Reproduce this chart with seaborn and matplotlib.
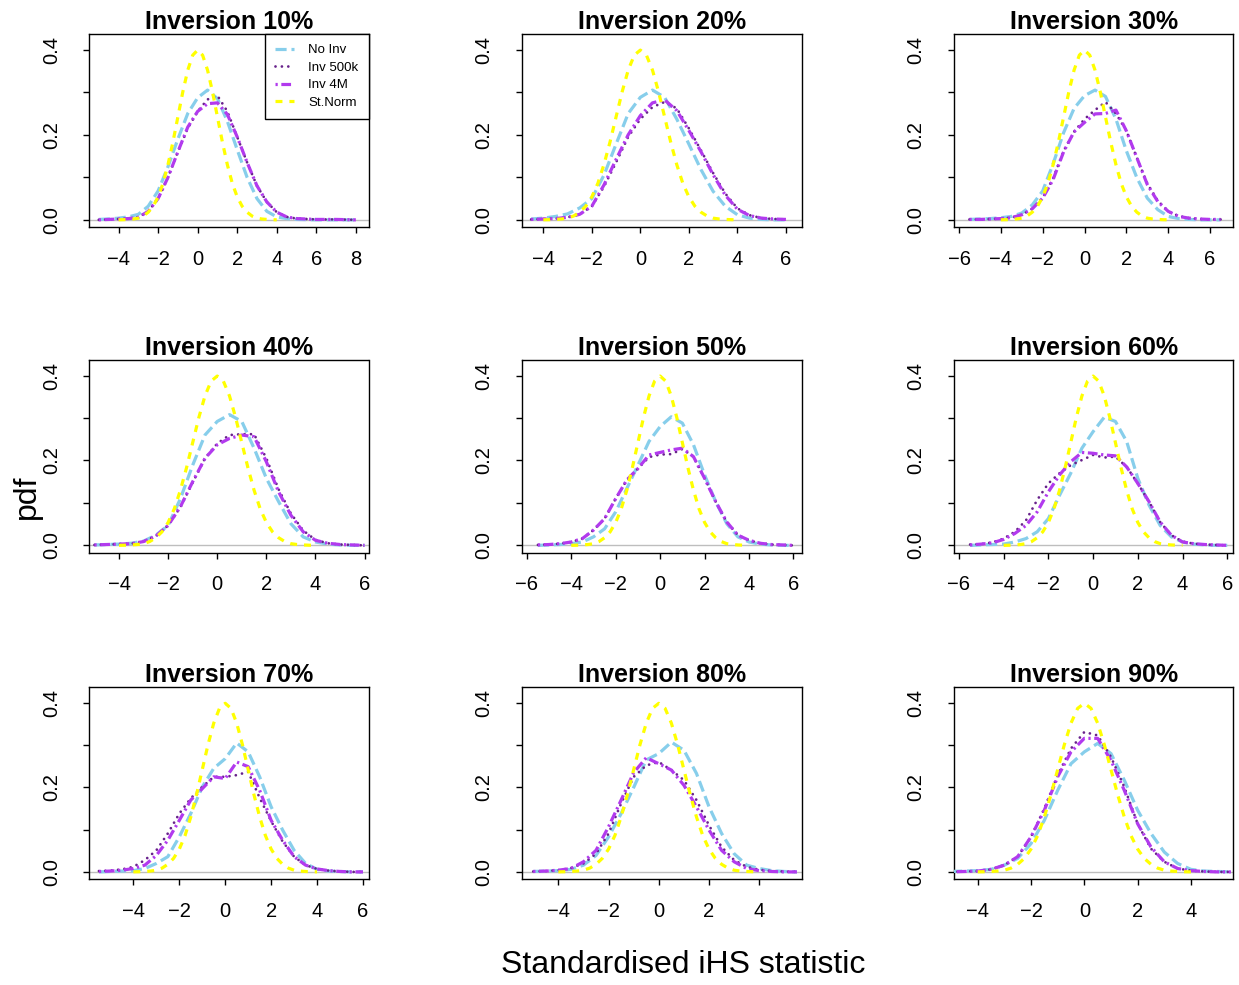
import matplotlib
matplotlib.use("Agg")
import matplotlib.pyplot as plt
from matplotlib.lines import Line2D
import seaborn as sns

# ---------------- data ----------------
titles = ["Inversion 10%", "Inversion 20%", "Inversion 30%",
          "Inversion 40%", "Inversion 50%", "Inversion 60%",
          "Inversion 70%", "Inversion 80%", "Inversion 90%"]
series_names = ["No Inv", "Inv 500k", "Inv 4M", "St.Norm"]

# standard normal reference curve
stnorm_x = [-4.0, -3.75, -3.5, -3.25, -3.0, -2.75, -2.5, -2.25, -2.0, -1.75, -1.5,
            -1.25, -1.0, -0.75, -0.5, -0.25, 0.0, 0.25, 0.5, 0.75, 1.0, 1.25, 1.5,
            1.75, 2.0, 2.25, 2.5, 2.75, 3.0, 3.25, 3.5, 3.75, 4.0]
stnorm_y = [0.0001, 0.0004, 0.001, 0.002, 0.004, 0.009, 0.018, 0.032, 0.054, 0.086, 0.130,
            0.183, 0.242, 0.301, 0.352, 0.387, 0.399, 0.387, 0.352, 0.301, 0.242, 0.183, 0.130,
            0.086, 0.054, 0.032, 0.018, 0.009, 0.004, 0.002, 0.001, 0.0004, 0.0001]

# 10%
x_10 = [-5, -4.5, -4, -3.5, -3, -2.5, -2, -1.5, -1, -0.5, 0, 0.5, 1, 1.5, 2, 2.5, 3,
        3.5, 4, 4.5, 5, 5.5, 6, 6.5, 7, 7.5, 8]
noinv_10 = [0.001, 0.002, 0.004, 0.007, 0.013, 0.032, 0.068, 0.125, 0.190, 0.250, 0.287,
            0.305, 0.285, 0.232, 0.165, 0.100, 0.050, 0.020, 0.007, 0.003, 0.001, 0.0005,
            0, 0, 0, 0, 0]
inv500k_10 = [0, 0.001, 0.002, 0.003, 0.006, 0.020, 0.050, 0.100, 0.160, 0.215, 0.255,
              0.283, 0.292, 0.255, 0.195, 0.135, 0.080, 0.042, 0.018, 0.007, 0.003, 0.002,
              0.001, 0.001, 0.001, 0.0005, 0]
inv4m_10 = [0, 0.001, 0.002, 0.003, 0.006, 0.020, 0.050, 0.100, 0.160, 0.218, 0.255,
            0.273, 0.275, 0.248, 0.195, 0.135, 0.080, 0.042, 0.018, 0.007, 0.003, 0.002,
            0.001, 0.001, 0.001, 0.0005, 0]

# 20%
x_20 = [-4.5, -4, -3.5, -3, -2.5, -2, -1.5, -1, -0.5, 0, 0.5, 1, 1.5, 2, 2.5, 3, 3.5,
        4, 4.5, 5, 5.5, 6]
noinv_20 = [0.002, 0.004, 0.008, 0.014, 0.028, 0.050, 0.105, 0.178, 0.250, 0.288, 0.305,
            0.288, 0.237, 0.178, 0.118, 0.067, 0.032, 0.012, 0.004, 0.001, 0, 0]
inv500k_20 = [0.001, 0.002, 0.003, 0.006, 0.013, 0.032, 0.078, 0.135, 0.195, 0.237, 0.265,
              0.277, 0.262, 0.215, 0.163, 0.110, 0.062, 0.027, 0.011, 0.004, 0.002, 0.001]
inv4m_20 = [0.001, 0.002, 0.003, 0.006, 0.013, 0.032, 0.082, 0.142, 0.200, 0.245, 0.275,
            0.282, 0.257, 0.210, 0.160, 0.106, 0.058, 0.025, 0.010, 0.004, 0.002, 0.001]

# 30%
x_30 = [-5.5, -5, -4.5, -4, -3.5, -3, -2.5, -2, -1.5, -1, -0.5, 0, 0.5, 1, 1.5, 2, 2.5,
        3, 3.5, 4, 4.5, 5, 5.5, 6, 6.5]
noinv_30 = [0.001, 0.002, 0.003, 0.005, 0.008, 0.016, 0.035, 0.068, 0.132, 0.205, 0.262,
            0.292, 0.305, 0.290, 0.237, 0.162, 0.099, 0.051, 0.024, 0.008, 0.003, 0.001,
            0, 0, 0]
inv500k_30 = [0.001, 0.001, 0.002, 0.003, 0.005, 0.012, 0.026, 0.052, 0.098, 0.162, 0.207,
              0.237, 0.258, 0.277, 0.250, 0.209, 0.146, 0.085, 0.045, 0.020, 0.009, 0.004,
              0.002, 0.001, 0.001]
inv4m_30 = [0.001, 0.001, 0.002, 0.003, 0.005, 0.012, 0.026, 0.051, 0.095, 0.160, 0.207,
            0.229, 0.249, 0.250, 0.258, 0.209, 0.146, 0.083, 0.043, 0.020, 0.008, 0.004,
            0.002, 0.001, 0.001]

# 40%
x_40 = [-5, -4.5, -4, -3.5, -3, -2.5, -2, -1.5, -1, -0.5, 0, 0.5, 1, 1.5, 2, 2.5, 3,
        3.5, 4, 4.5, 5, 5.5, 6]
noinv_40 = [0.001, 0.002, 0.003, 0.005, 0.010, 0.024, 0.047, 0.110, 0.189, 0.260, 0.292,
            0.308, 0.292, 0.229, 0.158, 0.103, 0.051, 0.020, 0.008, 0.003, 0.001, 0, 0]
inv500k_40 = [0.001, 0.002, 0.003, 0.004, 0.009, 0.022, 0.047, 0.090, 0.148, 0.205, 0.240,
              0.260, 0.262, 0.262, 0.205, 0.132, 0.075, 0.035, 0.013, 0.005, 0.002, 0.001, 0]
inv4m_40 = [0.001, 0.002, 0.003, 0.004, 0.009, 0.022, 0.047, 0.091, 0.150, 0.205, 0.237,
            0.252, 0.260, 0.256, 0.197, 0.126, 0.071, 0.032, 0.012, 0.005, 0.002, 0.001, 0]

# 50%
x_50 = [-5.5, -5, -4.5, -4, -3.5, -3, -2.5, -2, -1.5, -1, -0.5, 0, 0.5, 1, 1.5, 2, 2.5,
        3, 3.5, 4, 4.5, 5, 5.5, 6]
noinv_50 = [0, 0.001, 0.002, 0.004, 0.008, 0.020, 0.039, 0.079, 0.134, 0.189, 0.245,
            0.280, 0.303, 0.288, 0.237, 0.166, 0.103, 0.051, 0.020, 0.008, 0.003, 0.001, 0, 0]
inv500k_50 = [0.001, 0.002, 0.004, 0.008, 0.016, 0.036, 0.063, 0.110, 0.154, 0.181, 0.208,
              0.214, 0.215, 0.227, 0.209, 0.158, 0.103, 0.055, 0.024, 0.012, 0.005, 0.002,
              0.001, 0]
inv4m_50 = [0.001, 0.002, 0.004, 0.008, 0.016, 0.036, 0.063, 0.110, 0.154, 0.181, 0.213,
            0.219, 0.225, 0.229, 0.209, 0.158, 0.103, 0.055, 0.024, 0.012, 0.005, 0.002,
            0.001, 0]

# 60%
x_60 = [-5.5, -5, -4.5, -4, -3.5, -3, -2.5, -2, -1.5, -1, -0.5, 0, 0.5, 1, 1.5, 2, 2.5,
        3, 3.5, 4, 4.5, 5, 5.5, 6]
noinv_60 = [0, 0.001, 0.002, 0.003, 0.008, 0.016, 0.032, 0.063, 0.118, 0.170, 0.229,
            0.268, 0.302, 0.292, 0.245, 0.158, 0.095, 0.047, 0.020, 0.008, 0.003, 0.001, 0, 0]
inv500k_60 = [0.002, 0.003, 0.007, 0.016, 0.032, 0.059, 0.107, 0.146, 0.170, 0.189, 0.201,
              0.213, 0.207, 0.209, 0.185, 0.146, 0.103, 0.055, 0.024, 0.009, 0.004, 0.002,
              0.001, 0]
inv4m_60 = [0.001, 0.003, 0.006, 0.014, 0.028, 0.047, 0.079, 0.126, 0.166, 0.197, 0.219,
            0.217, 0.213, 0.211, 0.185, 0.146, 0.103, 0.055, 0.024, 0.008, 0.004, 0.002,
            0.001, 0]

# 70%
x_70 = [-5.5, -5, -4.5, -4, -3.5, -3, -2.5, -2, -1.5, -1, -0.5, 0, 0.5, 1, 1.5, 2, 2.5,
        3, 3.5, 4, 4.5, 5, 5.5, 6]
noinv_70 = [0, 0.001, 0.002, 0.003, 0.008, 0.020, 0.036, 0.083, 0.138, 0.201, 0.245,
            0.268, 0.305, 0.284, 0.225, 0.154, 0.099, 0.051, 0.020, 0.006, 0.002, 0.001, 0, 0]
inv500k_70 = [0.002, 0.003, 0.006, 0.012, 0.028, 0.051, 0.091, 0.138, 0.174, 0.201, 0.225,
              0.225, 0.229, 0.237, 0.175, 0.120, 0.072, 0.036, 0.016, 0.007, 0.003, 0.001,
              0, 0]
inv4m_70 = [0.001, 0.002, 0.004, 0.008, 0.016, 0.039, 0.075, 0.122, 0.170, 0.197, 0.225,
            0.221, 0.260, 0.249, 0.193, 0.122, 0.075, 0.036, 0.016, 0.007, 0.003, 0.001, 0, 0]

# 80%
x_80 = [-5, -4.5, -4, -3.5, -3, -2.5, -2, -1.5, -1, -0.5, 0, 0.5, 1, 1.5, 2, 2.5, 3,
        3.5, 4, 4.5, 5, 5.5]
noinv_80 = [0.001, 0.002, 0.003, 0.006, 0.016, 0.039, 0.083, 0.138, 0.200, 0.265, 0.280,
            0.307, 0.288, 0.233, 0.154, 0.091, 0.043, 0.016, 0.008, 0.003, 0.001, 0]
inv500k_80 = [0.001, 0.002, 0.004, 0.009, 0.020, 0.043, 0.091, 0.162, 0.225, 0.252, 0.260,
              0.241, 0.217, 0.170, 0.110, 0.059, 0.028, 0.012, 0.005, 0.002, 0.001, 0]
inv4m_80 = [0.001, 0.002, 0.004, 0.008, 0.024, 0.051, 0.107, 0.170, 0.235, 0.270, 0.256,
            0.241, 0.205, 0.154, 0.099, 0.051, 0.024, 0.008, 0.003, 0.001, 0, 0]

# 90%
x_90 = [-5, -4.5, -4, -3.5, -3, -2.5, -2, -1.5, -1, -0.5, 0, 0.5, 1, 1.5, 2, 2.5, 3,
        3.5, 4, 4.5, 5, 5.5]
noinv_90 = [0.001, 0.002, 0.003, 0.006, 0.016, 0.032, 0.067, 0.122, 0.193, 0.256, 0.284,
            0.304, 0.280, 0.217, 0.146, 0.091, 0.047, 0.020, 0.006, 0.002, 0.001, 0]
inv500k_90 = [0, 0.001, 0.002, 0.006, 0.016, 0.036, 0.083, 0.150, 0.229, 0.292, 0.331,
              0.323, 0.272, 0.201, 0.114, 0.055, 0.024, 0.008, 0.003, 0.001, 0, 0]
inv4m_90 = [0, 0.001, 0.002, 0.006, 0.016, 0.036, 0.083, 0.146, 0.225, 0.284, 0.316,
            0.316, 0.264, 0.193, 0.114, 0.059, 0.024, 0.008, 0.003, 0.001, 0, 0]

xticks_per_panel = [[-4, -2, 0, 2, 4, 6, 8], [-4, -2, 0, 2, 4, 6], [-6, -4, -2, 0, 2, 4, 6],
                    [-4, -2, 0, 2, 4, 6], [-6, -4, -2, 0, 2, 4, 6], [-6, -4, -2, 0, 2, 4, 6],
                    [-4, -2, 0, 2, 4, 6], [-4, -2, 0, 2, 4], [-4, -2, 0, 2, 4]]
yticks = [0.0, 0.1, 0.2, 0.3, 0.4]
ytick_labels = ["0.0", "", "0.2", "", "0.4"]

panels = [
    (x_10, noinv_10, inv500k_10, inv4m_10),
    (x_20, noinv_20, inv500k_20, inv4m_20),
    (x_30, noinv_30, inv500k_30, inv4m_30),
    (x_40, noinv_40, inv500k_40, inv4m_40),
    (x_50, noinv_50, inv500k_50, inv4m_50),
    (x_60, noinv_60, inv500k_60, inv4m_60),
    (x_70, noinv_70, inv500k_70, inv4m_70),
    (x_80, noinv_80, inv500k_80, inv4m_80),
    (x_90, noinv_90, inv500k_90, inv4m_90),
]

# ---------------- layout / style ----------------
xlims = [(-5.48, 8.64), (-4.89, 6.65), (-6.24, 7.11),
         (-5.21, 6.16), (-6.23, 6.37), (-6.22, 6.27),
         (-5.92, 6.24), (-5.46, 5.69), (-4.89, 5.59)]
ylim = (-0.0168, 0.4368)
W, H = 1239, 985
col_left = [89.3, 521.7, 954.0]
col_w = [279.2, 280.0, 279.3]
row_top = [34.0, 360.0, 687.3]
row_bot = [227.0, 552.5, 879.0]

styles = {
    "No Inv":   dict(color="#87CEEB", lw=2.3, ls=(0, (8.0, 3.5)), cap="butt"),
    "Inv 500k": dict(color="#68228B", lw=2.0, ls=(0, (0.01, 4.6)), cap="round"),
    "Inv 4M":   dict(color="#B23AEE", lw=2.3, ls=(0, (1.6, 2.6, 7.0, 2.6)), cap="butt"),
    "St.Norm":  dict(color="#FFFF00", lw=2.3, ls=(0, (5.0, 5.0)), cap="butt"),
}

sns.set_theme(style="ticks")
plt.rcParams["font.family"] = ["Liberation Sans", "DejaVu Sans"]
plt.rcParams["lines.scale_dashes"] = False
plt.rcParams["axes.edgecolor"] = "black"
plt.rcParams["axes.linewidth"] = 1.0
plt.rcParams["text.color"] = "black"
plt.rcParams["axes.labelcolor"] = "black"
plt.rcParams["axes.titlecolor"] = "black"
plt.rcParams["xtick.color"] = "black"
plt.rcParams["ytick.color"] = "black"

fig = plt.figure(figsize=(W / 100, H / 100), dpi=100)


def draw(ax, xs, ys, name):
    st = styles[name]
    sns.lineplot(x=xs, y=ys, ax=ax, color=st["color"], linewidth=st["lw"],
                 linestyle=st["ls"], dash_capstyle=st["cap"], estimator=None,
                 sort=False, legend=False, zorder=3)


for i, (xs, noinv, i500, i4m) in enumerate(panels):
    r, c = divmod(i, 3)
    ax = fig.add_axes([col_left[c] / W, 1 - row_bot[r] / H, col_w[c] / W,
                       (row_bot[r] - row_top[r]) / H])
    ax.axhline(0, color="#BEBEBE", lw=1.0, zorder=1)
    draw(ax, xs, noinv, "No Inv")
    draw(ax, xs, i500, "Inv 500k")
    draw(ax, xs, i4m, "Inv 4M")
    draw(ax, stnorm_x, stnorm_y, "St.Norm")
    ax.set_xlim(*xlims[i])
    ax.set_ylim(*ylim)
    ax.set_xticks(xticks_per_panel[i])
    ax.set_yticks(yticks)
    ax.set_yticklabels(ytick_labels)
    ax.set_xlabel("")
    ax.set_ylabel("")
    for s in ax.spines.values():
        s.set_visible(True)
        s.set_color("black")
        s.set_linewidth(1.0)
    ax.tick_params(axis="both", direction="out", length=4.5, width=1.0,
                   colors="black", labelcolor="black", labelsize=14.5)
    ax.tick_params(axis="x", pad=12)
    ax.tick_params(axis="y", pad=16)
    for lab in ax.get_yticklabels():
        lab.set_rotation(90)
        lab.set_va("center")
    ax.set_title(titles[i], fontsize=18, fontweight="bold", pad=2.5, color="black")

    if i == 0:
        handles = [Line2D([0], [0], color=styles[n]["color"], lw=styles[n]["lw"],
                          linestyle=styles[n]["ls"], dash_capstyle=styles[n]["cap"])
                   for n in series_names]
        leg = ax.legend(handles, series_names, loc="upper right", borderaxespad=0,
                        frameon=True, fancybox=False, framealpha=1, edgecolor="black",
                        fontsize=9.5, handlelength=1.45, handletextpad=1.1,
                        borderpad=0.75, labelspacing=0.4)
        leg.get_frame().set_linewidth(1.0)
        for t in leg.get_texts():
            t.set_color("black")

fig.text(27 / W, 1 - 497 / H, "pdf", rotation=90, fontsize=23, ha="center",
         va="center", color="black")
fig.text(683 / W, 1 - 965 / H, "Standardised iHS statistic", fontsize=23,
         ha="center", va="center", color="black")

fig.savefig("out.png", dpi=100)
